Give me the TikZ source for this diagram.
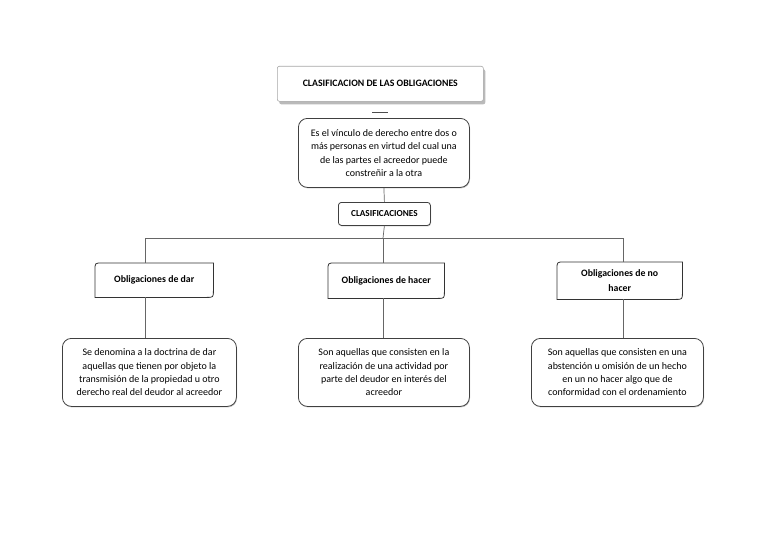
\documentclass[tikz,border=0pt]{standalone}
\usepackage{fontspec}
\setmainfont{Carlito}
\usetikzlibrary{shadows}
\begin{document}
\begin{tikzpicture}[x=1pt,y=-1pt,
  txt/.style={font=\fontsize{10}{13.4}\selectfont, align=center, text=black},
  bbox/.style={draw=black!75, line width=0.8pt, fill=white, rounded corners=9pt, anchor=north west, inner sep=1pt,
     drop shadow={shadow xshift=0.6pt, shadow yshift=-1pt, opacity=0.35, fill=black!60}},
  titlebox/.style={draw=black!35, line width=0.6pt, fill=white, rounded corners=2pt, anchor=north west,
     drop shadow={shadow xshift=2pt, shadow yshift=-3pt, opacity=0.45, fill=black!60}},
  otext/.style={anchor=north west, font=\fontsize{9.8}{14.5}\selectfont\bfseries, align=center, inner sep=1pt},
  lnk/.style={draw=black!60, line width=0.7pt}
]
\useasboundingbox (0,0) rectangle (768,543);

% title
\node[titlebox, minimum width=206pt, minimum height=35pt,
  font=\fontsize{9.8}{10}\selectfont\bfseries] (title) at (277,66) {CLASIFICACION DE LAS OBLIGACIONES};
\draw[black!70, line width=0.8pt] (372,112) -- (388,112);

% definition
\node[bbox, minimum width=171pt, minimum height=69pt, txt] (def) at (298,118)
  {Es el vínculo de derecho entre dos o\\más personas en virtud del cual una\\de las partes el acreedor puede\\constreñir a la otra};

% clasificaciones
\node[draw=black!75, line width=0.8pt, fill=white, rounded corners=3pt, anchor=north west,
  minimum width=92pt, minimum height=23pt, inner sep=1pt, font=\fontsize{9.2}{10}\selectfont\bfseries,
  drop shadow={shadow xshift=0.6pt, shadow yshift=-1pt, opacity=0.35, fill=black!60}] (clas) at (338,202) {CLASIFICACIONES};

% obligation boxes (rounded top-left and bottom-right)
\node[otext, minimum width=118pt, minimum height=34pt] (o1) at (95,263) {Obligaciones de dar};
\node[otext, minimum width=116pt, minimum height=35pt] (o2) at (328,263) {Obligaciones de hacer};
\node[otext, minimum width=125pt, minimum height=37pt] (o3) at (557,262) {Obligaciones de no\\hacer};

\foreach \n in {o1,o2,o3}{
  \fill[black!55, opacity=0.7, xshift=-1.6pt, yshift=-1.6pt]
    ([yshift=-7pt]\n.north west) .. controls (\n.north west) .. ([xshift=7pt]\n.north west) -- (\n.north east) --
    ([yshift=7pt]\n.south east) .. controls (\n.south east) .. ([xshift=-7pt]\n.south east) -- (\n.south west) -- cycle;
  \draw[black!80, line width=0.8pt, fill=white]
    ([yshift=-7pt]\n.north west) .. controls (\n.north west) .. ([xshift=7pt]\n.north west) -- (\n.north east) --
    ([yshift=7pt]\n.south east) .. controls (\n.south east) .. ([xshift=-7pt]\n.south east) -- (\n.south west) -- cycle;
}
\node[otext, minimum width=118pt, minimum height=34pt] at (95,263) {Obligaciones de dar};
\node[otext, minimum width=116pt, minimum height=35pt] at (328,263) {Obligaciones de hacer};
\node[otext, minimum width=125pt, minimum height=37pt] at (557,262) {Obligaciones de no\\hacer};

% descriptions
\node[bbox, minimum width=174pt, minimum height=68pt, txt] (d1) at (62,338)
  {Se denomina a la doctrina de dar\\aquellas que tienen por objeto la\\transmisión de la propiedad u otro\\derecho real del deudor al acreedor};
\node[bbox, minimum width=171pt, minimum height=68pt, txt] (d2) at (298,338)
  {Son aquellas que consisten en la\\realización de una actividad por\\parte del deudor en interés del\\acreedor};
\node[bbox, minimum width=172pt, minimum height=68pt, txt] (d3) at (531,338)
  {Son aquellas que consisten en una\\abstención u omisión de un hecho\\en un no hacer algo que de\\conformidad con el ordenamiento};

% connectors
\coordinate (hub) at (383,238);
\coordinate (hl) at (145,238);
\coordinate (hr) at (623,238);
\draw[lnk] (def.south) -- (clas.north);
\draw[lnk] (clas.south) -- (hub);
\draw[lnk] (hl) -- (hr);
\draw[lnk] (hl) -- (o1.north -| hl);
\draw[lnk] (hub) -- (o2.north -| hub);
\draw[lnk] (hr) -- (o3.north -| hr);
\draw[lnk] (o1.south -| hl) -- (d1.north -| hl);
\draw[lnk] (o2.south -| hub) -- (d2.north -| hub);
\draw[lnk] (o3.south -| hr) -- (d3.north -| hr);
\end{tikzpicture}
\end{document}
